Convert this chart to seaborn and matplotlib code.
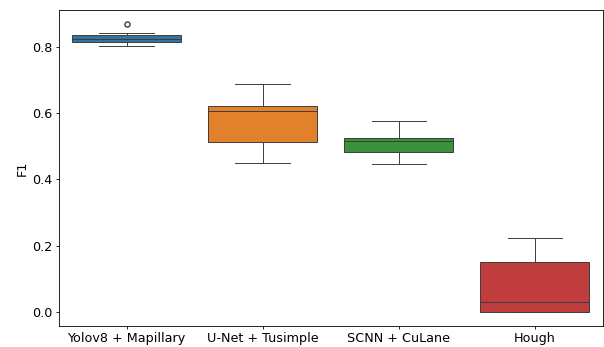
import matplotlib
matplotlib.use("Agg")
import matplotlib.pyplot as plt
import seaborn as sns
import pandas as pd

# F1 scores per method
yolo_mapillary = [0.804, 0.810, 0.816, 0.821, 0.826, 0.831, 0.836, 0.844, 0.869]
unet_tusimple = [0.449, 0.512, 0.607, 0.622, 0.689]
scnn_culane = [0.447, 0.482, 0.516, 0.526, 0.576]
hough = [0.0, 0.0, 0.029, 0.150, 0.224]

methods = ["Yolov8 + Mapillary", "U-Net + Tusimple", "SCNN + CuLane", "Hough"]
scores = [yolo_mapillary, unet_tusimple, scnn_culane, hough]

df = pd.DataFrame(
    [(m, v) for m, vals in zip(methods, scores) for v in vals],
    columns=["Method", "F1"],
)

plt.rcParams["font.family"] = ["DejaVu Sans"]
plt.rcParams["font.size"] = 9.2
plt.rcParams["axes.linewidth"] = 0.6
for axis in ("xtick", "ytick"):
    plt.rcParams[f"{axis}.major.size"] = 2.2
    plt.rcParams[f"{axis}.major.pad"] = 2.2
    plt.rcParams[f"{axis}.major.width"] = 0.6

fig = plt.figure(figsize=(6.04, 3.47), dpi=100)
ax = fig.add_axes([58.5 / 604, 21 / 347, (603 - 58.5) / 604, (326 - 10) / 347])

sns.boxplot(data=df, x="Method", y="F1", hue="Method", order=methods,
            hue_order=methods, palette="tab10", legend=False, ax=ax,
            linewidth=0.7, fliersize=3.7)
ax.set_xlabel("")
ax.set_ylabel("F1", labelpad=2.5)
ax.set_yticks([0.0, 0.2, 0.4, 0.6, 0.8])

fig.savefig("out.png", dpi=100)
